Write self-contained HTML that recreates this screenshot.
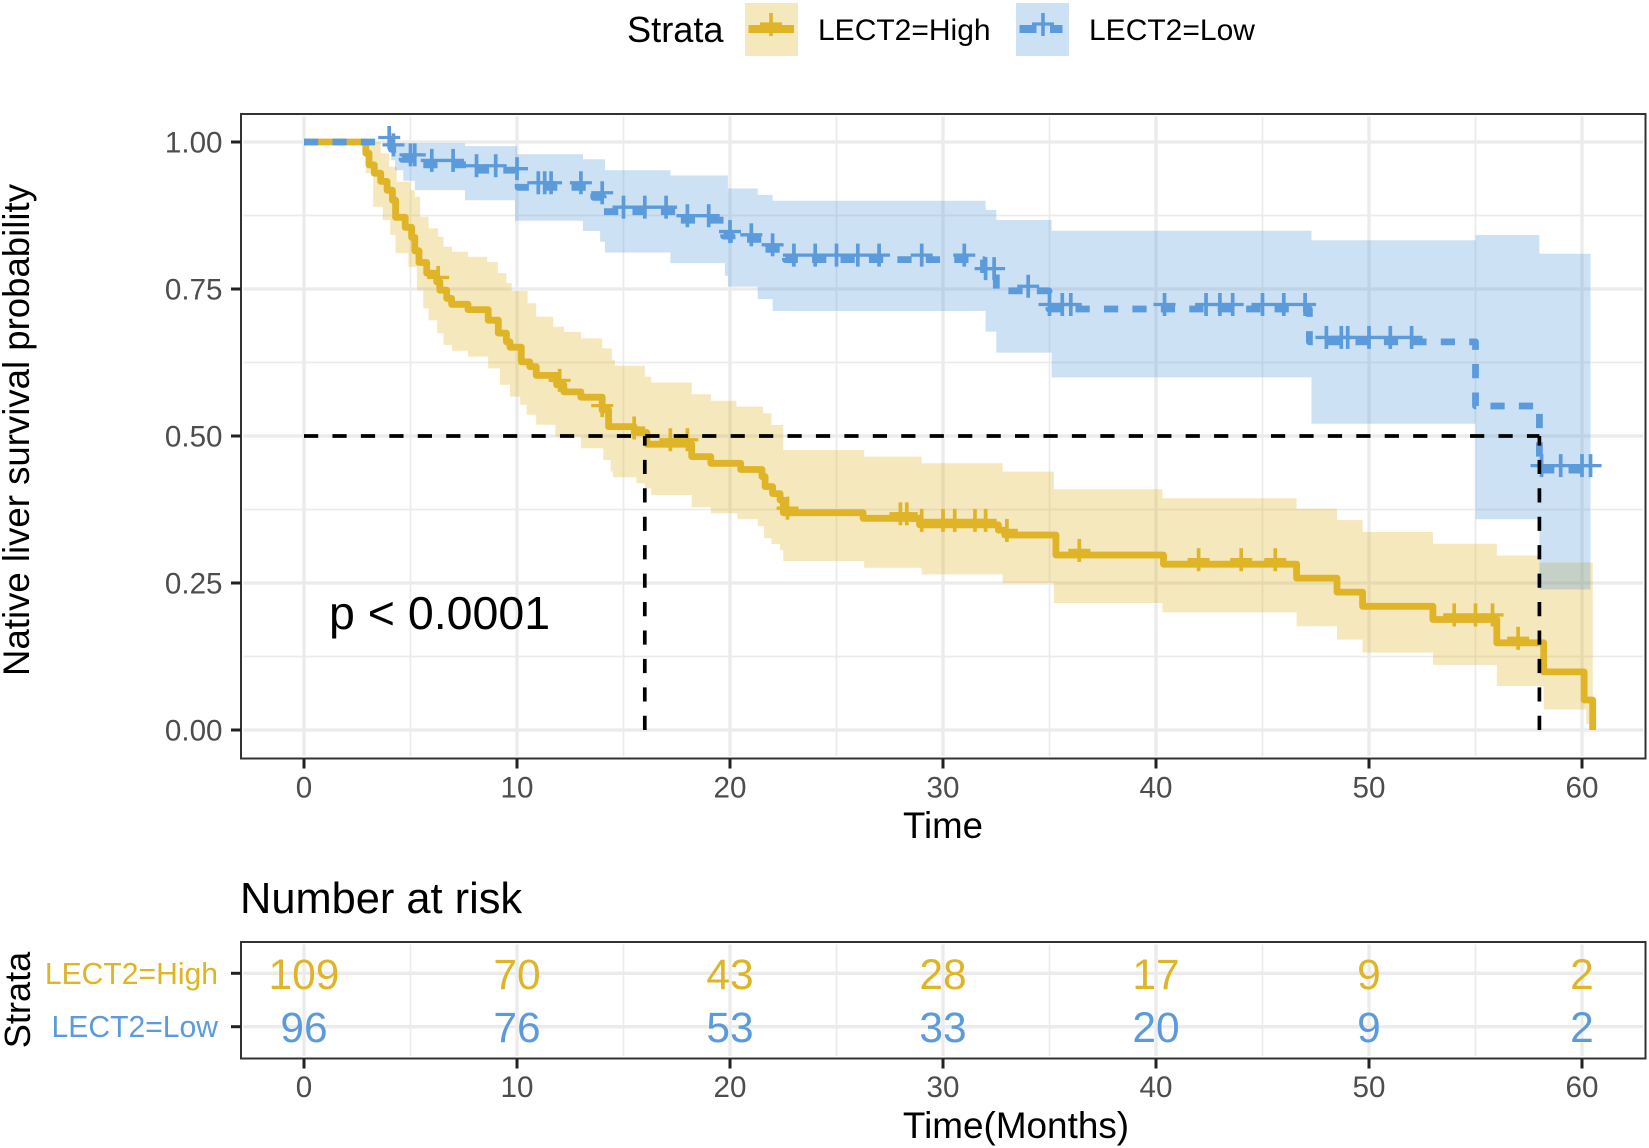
<!DOCTYPE html>
<html lang="en">
<head>
<meta charset="utf-8">
<title>Native liver survival by LECT2 strata</title>
<style>
html,body{margin:0;padding:0;background:#fff}
svg{display:block;font-family:"Liberation Sans",Arial,sans-serif}
</style>
</head>
<body>
<svg id="chart" xmlns="http://www.w3.org/2000/svg" width="1649" height="1148" viewBox="0 0 1649 1148">
  <rect x="0" y="0" width="1649" height="1148" fill="#fff"/>

  <g>
    <text x="627" y="42" font-size="36.2" fill="#000">Strata</text>
    <g>
      <rect x="745" y="3" width="53" height="53" fill="#DFB426" fill-opacity="0.3"/>
      <line x1="748.5" y1="29" x2="794" y2="29" stroke="#DFB426" stroke-width="8"/>
      <line x1="771" y1="13" x2="771" y2="36" stroke="#DFB426" stroke-width="3.6"/>
      <line x1="760" y1="24" x2="782" y2="24" stroke="#DFB426" stroke-width="3.2"/>
      <text x="818" y="40" font-size="30" fill="#000">LECT2=High</text>
    </g>
    <g>
      <rect x="1016" y="3" width="53" height="53" fill="#5B9BDB" fill-opacity="0.3"/>
      <line x1="1019.5" y1="29" x2="1036.5" y2="29" stroke="#5B9BDB" stroke-width="8"/>
      <line x1="1050" y1="29" x2="1062.5" y2="29" stroke="#5B9BDB" stroke-width="8"/>
      <line x1="1043" y1="13" x2="1043" y2="36" stroke="#5B9BDB" stroke-width="3.6"/>
      <line x1="1032" y1="24" x2="1054" y2="24" stroke="#5B9BDB" stroke-width="3.2"/>
      <text x="1089" y="40" font-size="30" fill="#000">LECT2=Low</text>
    </g>
  </g>

  <g id="main-grid"></g>
  <g id="main-bands"></g>
  <g id="main-lines"></g>
  <g id="main-censors"></g>
  <text x="329" y="629" font-size="46.5" fill="#000">p &lt; 0.0001</text>
  <g id="main-median"></g>
  <rect x="241" y="114" width="1404.5" height="644.5" fill="none" stroke="#333" stroke-width="2"/>
  <g id="main-axes"></g>
  <text transform="translate(29 430) rotate(-90)" text-anchor="middle" font-size="36.6" fill="#000">Native liver survival probability</text>
  <text x="943" y="838" text-anchor="middle" font-size="36.6" fill="#000">Time</text>

  <text x="240" y="913" font-size="43.4" fill="#000">Number at risk</text>
  <g id="risk-grid"></g>
  <g id="risk-values"></g>
  <rect x="241" y="942" width="1404.5" height="116.5" fill="none" stroke="#333" stroke-width="2"/>
  <g id="risk-axes"></g>
  <text transform="translate(30 1000) rotate(-90)" text-anchor="middle" font-size="36.2" fill="#000">Strata</text>
  <text x="1016" y="1138" text-anchor="middle" font-size="36.9" fill="#000">Time(Months)</text>
</svg>
<script>
const monthTicks = [0, 10, 20, 30, 40, 50, 60];
const monthMinorTicks = [5, 15, 25, 35, 45, 55];
const survivalTicks = [0, 0.25, 0.5, 0.75, 1];
const survivalTickLabels = ['0.00', '0.25', '0.50', '0.75', '1.00'];
const survivalMinorTicks = [0.125, 0.375, 0.625, 0.875];

const highTimes = [0, 2.9, 3.05, 3.3, 3.6, 3.9, 4.15, 4.3, 4.75, 5.05, 5.2, 5.4, 5.76, 6.23, 6.38, 6.7, 6.93, 7.7, 8.65, 9.12, 9.5, 9.67, 10.2, 10.6, 10.9, 11.86, 12.2, 13, 14, 14.3, 15.5, 16.1, 18.2, 19.1, 20.5, 21.5, 21.65, 22, 22.35, 22.5, 26.25, 28.9, 32.6, 32.9, 35.3, 40.35, 46.6, 48.5, 49.7, 53, 56, 58.2, 60.1, 60.5];
const highSurvival = [1, 0.981, 0.961, 0.947, 0.933, 0.918, 0.901, 0.872, 0.855, 0.838, 0.815, 0.795, 0.777, 0.762, 0.748, 0.734, 0.724, 0.715, 0.697, 0.675, 0.66, 0.651, 0.626, 0.618, 0.603, 0.587, 0.575, 0.566, 0.544, 0.516, 0.506, 0.486, 0.465, 0.4535, 0.443, 0.431, 0.414, 0.402, 0.391, 0.3696, 0.36, 0.3488, 0.34, 0.3317, 0.2977, 0.282, 0.2583, 0.2345, 0.2103, 0.188, 0.1483, 0.0988, 0.051, 0];
const highCensorTimes = [6.3, 12, 14, 15.5, 17.2, 18, 22.7, 28, 28.3, 29, 30, 30.55, 31.5, 32, 33, 36.4, 42, 44, 45.6, 54, 55, 55.8, 57];
const highUpperTimes = [2.9, 3.6, 4, 4.35, 5, 5.2, 5.45, 5.85, 6.3, 6.55, 6.95, 7.7, 8.6, 9.1, 9.5, 9.75, 10.5, 10.9, 11.7, 12.2, 13, 14, 14.45, 14.6, 16, 16.3, 18.2, 19.1, 20.3, 21.55, 21.95, 22.5, 26.3, 29, 32.8, 35.2, 40.3, 46.6, 48.5, 49.7, 53, 56, 58];
const highUpperValues = [1, 0.981, 0.958, 0.9325, 0.918, 0.907, 0.873, 0.853, 0.839, 0.822, 0.8135, 0.805, 0.796, 0.777, 0.76, 0.7466, 0.7256, 0.703, 0.686, 0.677, 0.666, 0.649, 0.629, 0.6196, 0.601, 0.591, 0.571, 0.56, 0.55, 0.5385, 0.5187, 0.4762, 0.465, 0.4535, 0.4394, 0.4093, 0.394, 0.3762, 0.357, 0.3368, 0.3166, 0.2968, 0.2849];
const highLowerTimes = [2.9, 3.25, 3.7, 4.05, 4.3, 4.9, 5.3, 5.6, 5.85, 6.25, 6.55, 6.95, 7.7, 8.65, 9.2, 9.67, 10.15, 10.45, 10.9, 11.8, 13, 14.05, 14.4, 14.5, 15.6, 16, 16.3, 18.2, 19.1, 20.35, 21.3, 21.6, 21.95, 22.35, 22.5, 26.3, 29, 32.8, 35.2, 40.3, 46.6, 48.5, 49.7, 53, 56, 58.2, 60.2];
const highLowerValues = [0.947, 0.89, 0.8673, 0.842, 0.811, 0.788, 0.748, 0.717, 0.697, 0.6746, 0.655, 0.645, 0.635, 0.615, 0.587, 0.567, 0.553, 0.536, 0.519, 0.499, 0.479, 0.459, 0.4394, 0.4297, 0.4195, 0.4109, 0.3997, 0.3787, 0.3685, 0.3583, 0.3469, 0.326, 0.3163, 0.306, 0.2875, 0.276, 0.2647, 0.25, 0.216, 0.2, 0.1763, 0.1537, 0.1316, 0.1107, 0.0748, 0.0349, 0.01];
const highBandEnd = 60.5;

const lowTimes = [0, 4.1, 4.6, 5.6, 7.9, 9.9, 10.05, 13.6, 14.05, 17.5, 19.7, 20.1, 21.5, 22.6, 31.9, 32.5, 34.97, 47.2, 55, 58];
const lowSurvival = [1, 0.9875, 0.9705, 0.961, 0.952, 0.947, 0.923, 0.906, 0.8815, 0.867, 0.84, 0.8345, 0.8175, 0.8, 0.777, 0.747, 0.716, 0.66, 0.551, 0.442];
const lowLineEnd = 60.4;
const lowCensorTimes = [4, 4.2, 5, 5.2, 6, 7, 8.1, 9, 10, 11, 11.3, 11.6, 13, 14, 15, 16, 17, 18, 19, 20, 21, 22, 23, 24, 25, 26, 27, 29, 31, 32, 32.4, 34, 35, 35.6, 36, 40.4, 42.35, 43, 43.6, 45, 46, 47, 48, 48.7, 49, 50, 51, 52, 58.1, 59, 60, 60.4];
const lowUpperTimes = [4.1, 7.56, 10, 13.1, 14.13, 17.2, 19.9, 21.3, 22, 32, 32.5, 35.1, 47.3, 55, 58];
const lowUpperValues = [0.998, 0.993, 0.979, 0.9705, 0.952, 0.943, 0.921, 0.91, 0.9, 0.8844, 0.8673, 0.8492, 0.8328, 0.8417, 0.8101];
const lowLowerTimes = [4.1, 4.27, 4.66, 5.2, 7.56, 9.9, 13.1, 13.9, 14.13, 17.2, 19.76, 19.9, 21.3, 22, 32, 32.5, 35.1, 47.3, 55, 58];
const lowLowerValues = [0.969, 0.952, 0.934, 0.918, 0.901, 0.866, 0.8486, 0.8305, 0.812, 0.794, 0.7727, 0.754, 0.733, 0.7126, 0.6775, 0.6418, 0.5997, 0.5207, 0.3583, 0.239];
const lowBandEnd = 60.4;

const medianLevel = 0.5;
const medianHigh = 16;
const medianLow = 58;

const riskStrata = ['LECT2=High', 'LECT2=Low'];
const riskHigh = [109, 70, 43, 28, 17, 9, 2];
const riskLow = [96, 76, 53, 33, 20, 9, 2];

const NS = 'http://www.w3.org/2000/svg';
const HIGH = '#DFB426';
const LOW = '#5B9BDB';
const GRID = '#EBEBEB';
const TICKTEXT = '#4D4D4D';
const PANEL = {left: 241, right: 1645.5, top: 114, bottom: 758.5};
const RISK = {left: 241, right: 1645.5, top: 942, bottom: 1058.5};
const INSET = 2.5;
const DASH = '14.22 14.22';
const CENSOR_LIFT = 4.5;
const CURVE_WIDTH = 6.8;
const TICK_FONT = 29.6;

function x(t) { return 304 + t * 21.3; }
function y(s) { return 730 - s * 588; }
function riskY(i) { return 973.3 + i * 53.4; }

function make(tag, attrs, parent, text) {
  const el = document.createElementNS(NS, tag);
  for (const k in attrs) el.setAttribute(k, attrs[k]);
  if (text !== undefined) el.textContent = text;
  parent.appendChild(el);
  return el;
}

function stepPath(times, values, end) {
  let d = 'M' + x(times[0]).toFixed(1) + ' ' + y(values[0]).toFixed(1);
  for (let i = 1; i < times.length; i++) {
    d += 'L' + x(times[i]).toFixed(1) + ' ' + y(values[i - 1]).toFixed(1);
    d += 'L' + x(times[i]).toFixed(1) + ' ' + y(values[i]).toFixed(1);
  }
  if (end !== undefined) d += 'L' + x(end).toFixed(1) + ' ' + y(values[values.length - 1]).toFixed(1);
  return d;
}

function bandPath(upT, upV, loT, loV, end) {
  let pts = [];
  for (let i = 0; i < upT.length; i++) {
    pts.push([x(upT[i]), y(upV[i])]);
    pts.push([x(i + 1 < upT.length ? upT[i + 1] : end), y(upV[i])]);
  }
  for (let i = loT.length - 1; i >= 0; i--) {
    pts.push([x(i + 1 < loT.length ? loT[i + 1] : end), y(loV[i])]);
    pts.push([x(loT[i]), y(loV[i])]);
  }
  return 'M' + pts.map(function (p) { return p[0].toFixed(1) + ' ' + p[1].toFixed(1); }).join('L') + 'Z';
}

function survivalAt(times, values, t) {
  let s = values[0];
  for (let i = 0; i < times.length; i++) {
    if (times[i] <= t) s = values[i];
  }
  return s;
}

function drawVerticalGrid(parent, box) {
  monthMinorTicks.forEach(function (m) {
    const l = make('line', {x1: x(m), x2: x(m), y1: box.top + INSET, y2: box.bottom - INSET, stroke: GRID, 'stroke-width': 1.7}, parent);
    
    
  });
  monthTicks.forEach(function (m) {
    const l = make('line', {x1: x(m), x2: x(m), y1: box.top + INSET, y2: box.bottom - INSET, stroke: GRID, 'stroke-width': 3.3}, parent);
    
    
  });
}

function drawMonthAxis(parent, box, labelY) {
  monthTicks.forEach(function (m) {
    const t = make('line', {x1: x(m), x2: x(m), y1: box.bottom, y2: box.bottom + 10, stroke: '#222', 'stroke-width': 3}, parent);
    
    
    const l = make('text', {x: x(m), y: labelY, 'text-anchor': 'middle', 'font-size': TICK_FONT, fill: TICKTEXT}, parent, String(m));
    
    
  });
}

function drawCensors(parent, times, stepT, stepV, color) {
  times.forEach(function (t) {
    const cx = x(t);
    const cy = y(survivalAt(stepT, stepV, t)) - CENSOR_LIFT;
    const v = make('line', {x1: cx, x2: cx, y1: cy - 11.5, y2: cy + 11.5, stroke: color, 'stroke-width': 3.7}, parent);
    
    
    const h = make('line', {x1: cx - 11, x2: cx + 11, y1: cy, y2: cy, stroke: color, 'stroke-width': 3.3}, parent);
    
    
  });
}

const mainGrid = document.getElementById('main-grid');
survivalMinorTicks.forEach(function (s) {
  const l = make('line', {x1: PANEL.left + INSET, x2: PANEL.right - INSET, y1: y(s), y2: y(s), stroke: GRID, 'stroke-width': 1.7}, mainGrid);
  
  
});
survivalTicks.forEach(function (s) {
  const l = make('line', {x1: PANEL.left + INSET, x2: PANEL.right - INSET, y1: y(s), y2: y(s), stroke: GRID, 'stroke-width': 3.3}, mainGrid);
  
  
});
drawVerticalGrid(mainGrid, PANEL);

const bands = document.getElementById('main-bands');
const bandHigh = make('path', {d: bandPath(highUpperTimes, highUpperValues, highLowerTimes, highLowerValues, highBandEnd), fill: HIGH, 'fill-opacity': 0.3}, bands);


const bandLow = make('path', {d: bandPath(lowUpperTimes, lowUpperValues, lowLowerTimes, lowLowerValues, lowBandEnd), fill: LOW, 'fill-opacity': 0.3}, bands);



const lines = document.getElementById('main-lines');
const curveHigh = make('path', {d: stepPath(highTimes, highSurvival), fill: 'none', stroke: HIGH, 'stroke-width': CURVE_WIDTH, 'stroke-linejoin': 'round'}, lines);


const curveLow = make('path', {d: stepPath(lowTimes, lowSurvival, lowLineEnd), fill: 'none', stroke: LOW, 'stroke-width': CURVE_WIDTH, 'stroke-linejoin': 'round', 'stroke-dasharray': DASH}, lines);



const censors = document.getElementById('main-censors');
drawCensors(censors, highCensorTimes, highTimes, highSurvival, HIGH);
drawCensors(censors, lowCensorTimes, lowTimes, lowSurvival, LOW);

const median = document.getElementById('main-median');
const medH = make('line', {x1: x(0), y1: y(medianLevel), x2: x(medianLow), y2: y(medianLevel), stroke: '#000', 'stroke-width': 3.7, 'stroke-dasharray': DASH}, median);


const medV1 = make('line', {x1: x(medianHigh), y1: y(0), x2: x(medianHigh), y2: y(medianLevel), stroke: '#000', 'stroke-width': 3.7, 'stroke-dasharray': DASH}, median);


const medV2 = make('line', {x1: x(medianLow), y1: y(0), x2: x(medianLow), y2: y(medianLevel), stroke: '#000', 'stroke-width': 3.7, 'stroke-dasharray': DASH}, median);



const mainAxes = document.getElementById('main-axes');
survivalTicks.forEach(function (s, i) {
  const t = make('line', {x1: 231, x2: 241, y1: y(s), y2: y(s), stroke: '#222', 'stroke-width': 3}, mainAxes);
  
  
  const l = make('text', {x: 222.5, y: y(s) + 10.5, 'text-anchor': 'end', 'font-size': TICK_FONT, fill: TICKTEXT}, mainAxes, survivalTickLabels[i]);
  
  
});
drawMonthAxis(mainAxes, PANEL, 797.5);

const riskGrid = document.getElementById('risk-grid');
riskStrata.forEach(function (name, i) {
  const l = make('line', {x1: RISK.left + INSET, x2: RISK.right - INSET, y1: riskY(i), y2: riskY(i), stroke: GRID, 'stroke-width': 3.3}, riskGrid);
  
  
});
drawVerticalGrid(riskGrid, RISK);

const riskValues = document.getElementById('risk-values');
monthTicks.forEach(function (m, i) {
  const a = make('text', {x: x(m), y: riskY(0) + 15.5, 'text-anchor': 'middle', 'font-size': 42.5, fill: HIGH}, riskValues, String(riskHigh[i]));
  
  
  const b = make('text', {x: x(m), y: riskY(1) + 15.5, 'text-anchor': 'middle', 'font-size': 42.5, fill: LOW}, riskValues, String(riskLow[i]));
  
  
});

const riskAxes = document.getElementById('risk-axes');
riskStrata.forEach(function (name, i) {
  const t = make('line', {x1: 231, x2: 241, y1: riskY(i), y2: riskY(i), stroke: '#222', 'stroke-width': 3}, riskAxes);
  
  
  const l = make('text', {x: 218, y: riskY(i) + 10.5, 'text-anchor': 'end', 'font-size': 30.1, fill: i === 0 ? HIGH : LOW}, riskAxes, name);
  
  
});
drawMonthAxis(riskAxes, RISK, 1097);
</script>
</body>
</html>
